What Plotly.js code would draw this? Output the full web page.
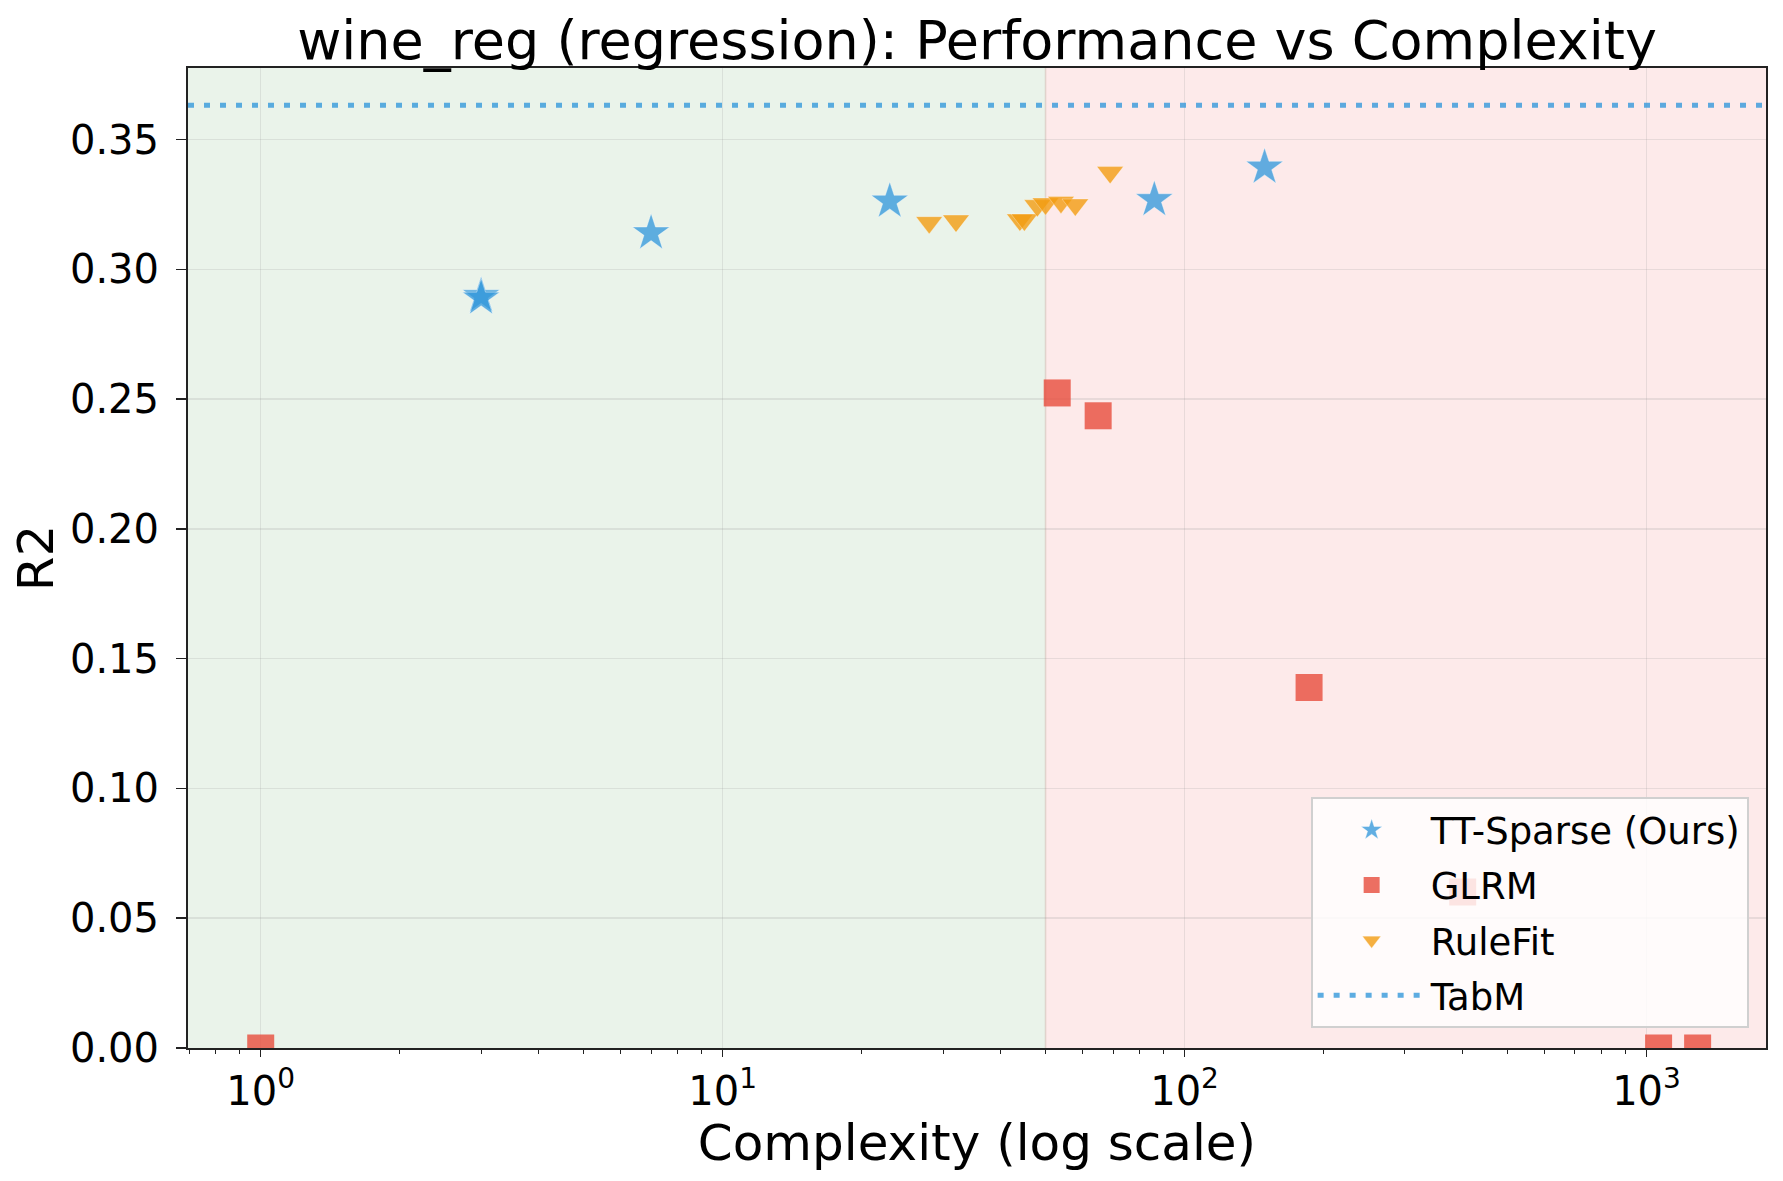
<!DOCTYPE html>
<html>
<head>
<meta charset="utf-8">
<script src="https://cdn.plot.ly/plotly-3.0.1.min.js"></script>
<style>html,body{margin:0;padding:0;background:#fff;}#chart{width:1783px;height:1181px;}</style>
</head>
<body>
<div id="chart"></div>
<script>
// ---- data ----
const ttX = [3, 3, 7, 23, 86, 149];
const ttY = [0.2898, 0.2889, 0.3140, 0.3262, 0.3268, 0.3393];

const glrmX = [1, 53, 65, 186, 400, 1062, 1290];
const glrmY = [0.0, 0.2524, 0.2436, 0.1389, 0.0601, 0.0, 0.0];

const rfX = [28, 32, 44, 45, 48, 50, 54, 58, 69];
const rfY = [0.3181, 0.3187, 0.3191, 0.3191, 0.3246, 0.3253, 0.3259, 0.3249, 0.3374];

const tabmY = 0.3632;
const threshold = 50;
const xRangeVals = [0.696, 1814];
const yRangeVals = [0, 0.3776];
const xTickVals = [1, 10, 100, 1000];
const xTickText = ['10<sup>0</sup>', '10<sup>1</sup>', '10<sup>2</sup>', '10<sup>3</sup>'];

const FONT = 'DejaVu Sans, sans-serif';

const traces = [
  {
    x: ttX, y: ttY, type: 'scatter', mode: 'markers', name: 'TT-Sparse (Ours)', legendgroup: 'g1',
    marker: {symbol: 'star', size: 28, color: 'rgba(52,152,219,0.78)', line: {color: 'rgba(255,255,255,0.8)', width: 0.5}},
    cliponaxis: true
  },
  {
    x: glrmX, y: glrmY, type: 'scatter', mode: 'markers', name: 'GLRM', legendgroup: 'g2',
    marker: {symbol: 'square', size: 27, color: 'rgba(231,76,60,0.8)', line: {width: 0}},
    cliponaxis: true
  },
  {
    x: rfX, y: rfY, type: 'scatter', mode: 'markers', name: 'RuleFit', legendgroup: 'g3',
    marker: {symbol: 'triangle-down', size: 23, color: 'rgba(243,156,18,0.8)', line: {color: 'rgba(255,255,255,0.6)', width: 0.5}},
    cliponaxis: true
  },
  {
    x: xRangeVals, y: [tabmY, tabmY], type: 'scatter', mode: 'lines', name: 'TabM', legendgroup: 'g4',
    line: {color: 'rgba(52,152,219,0.8)', width: 5, dash: '6px,10px'}
  }
];

const layout = {
  width: 1783, height: 1181,
  paper_bgcolor: '#ffffff', plot_bgcolor: '#ffffff',
  margin: {l: 188, r: 17, t: 68, b: 133},
  font: {family: FONT, color: '#000'},
  title: {text: 'wine_reg (regression): Performance vs Complexity', font: {family: FONT, size: 54, color: '#000'},
          xref: 'paper', x: 0.5, xanchor: 'center', y: 0.966, yanchor: 'middle'},
  xaxis: {
    type: 'log',
    range: [Math.log10(xRangeVals[0]), Math.log10(xRangeVals[1])],
    tickmode: 'array', tickvals: xTickVals, ticktext: xTickText,
    tickfont: {family: FONT, size: 40, color: '#000'},
    ticks: 'outside', ticklen: 7, tickwidth: 1.5, tickcolor: '#222',
    showgrid: true, gridcolor: 'rgba(150,150,150,0.2)', gridwidth: 1.5,
    showline: true, linecolor: '#222', linewidth: 2, mirror: true,
    zeroline: false,
    minor: {ticks: 'outside', ticklen: 4, tickwidth: 1, tickcolor: '#222', dtick: 'D1', showgrid: false},
    title: {text: 'Complexity (log scale)', font: {family: FONT, size: 50, color: '#000'}, standoff: 0}
  },
  yaxis: {
    range: yRangeVals,
    tickmode: 'linear', tick0: 0, dtick: 0.05, tickformat: '.2f',
    tickfont: {family: FONT, size: 40, color: '#000'},
    ticks: 'outside', ticklen: 10, tickwidth: 1.5, tickcolor: '#222',
    ticklabelstandoff: 9,
    showgrid: true, gridcolor: 'rgba(150,150,150,0.2)', gridwidth: 1.5,
    showline: true, linecolor: '#222', linewidth: 2, mirror: true,
    zeroline: false,
    title: {text: 'R2', font: {family: FONT, size: 50, color: '#000'}, standoff: 0}
  },
  shapes: [
    {type: 'rect', xref: 'x', yref: 'paper', x0: 0.01, x1: threshold, y0: 0, y1: 1,
     fillcolor: '#eaf3ea', line: {width: 0}, layer: 'below'},
    {type: 'rect', xref: 'x', yref: 'paper', x0: threshold, x1: 1e6, y0: 0, y1: 1,
     fillcolor: '#fdeaea', line: {width: 0}, layer: 'below'},
    {type: 'line', xref: 'x', yref: 'paper', x0: threshold, x1: threshold, y0: 0, y1: 1,
     line: {color: 'rgba(200,180,170,0.5)', width: 1.5}, layer: 'below'}
  ],
  legend: {
    x: 0.989, y: 0.02, xanchor: 'right', yanchor: 'bottom',
    bgcolor: 'rgba(255,255,255,0.82)', bordercolor: '#d0d0d0', borderwidth: 2,
    font: {family: FONT, size: 37, color: '#000'},
    itemwidth: 108, tracegroupgap: 4, traceorder: 'grouped'
  },
  showlegend: true
};

Plotly.newPlot('chart', traces, layout, {displayModeBar: false, staticPlot: true});
</script>
</body>
</html>
